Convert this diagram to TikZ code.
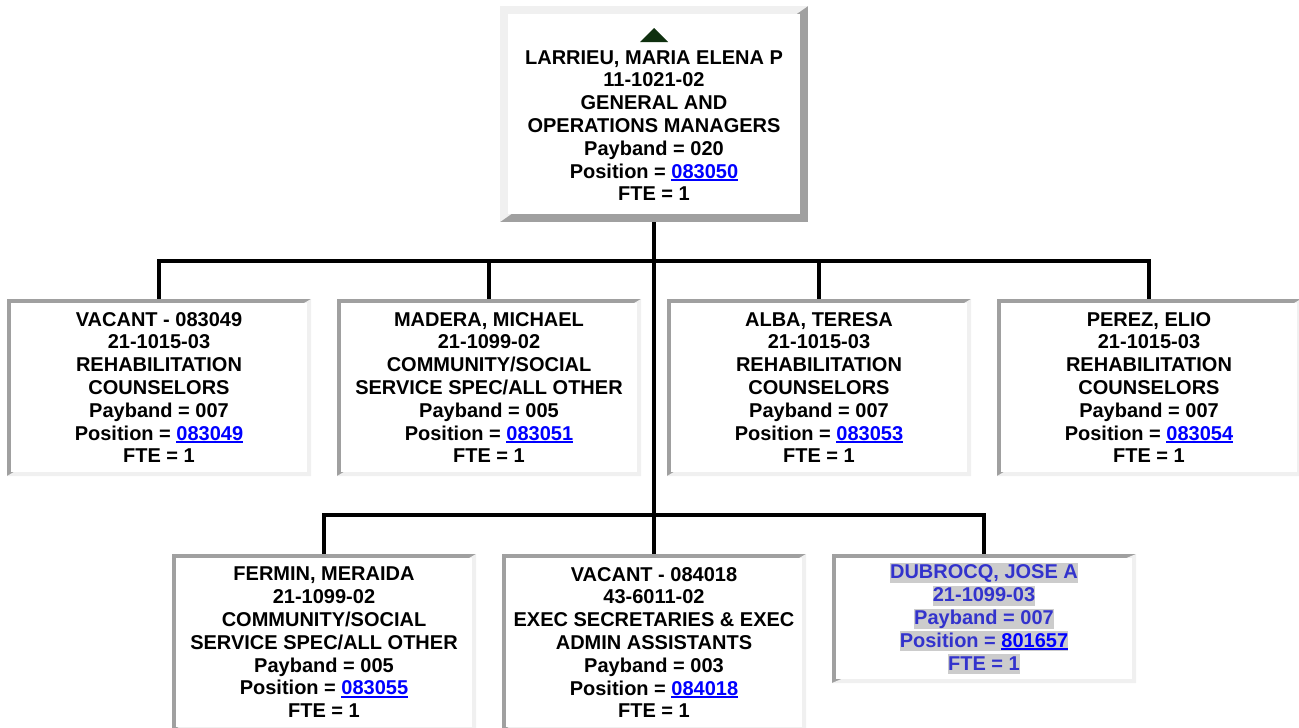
\documentclass[tikz,border=0pt]{standalone}
\usepackage{fontspec}
\setmainfont{Liberation Sans}
\usetikzlibrary{calc}
\definecolor{cedge}{HTML}{A0A0A0}
\definecolor{clight}{HTML}{F0F0F0}
\definecolor{clink}{HTML}{0000FF}
\definecolor{cvis}{HTML}{3333CC}
\definecolor{chl}{HTML}{CCCCCC}
\definecolor{ctri}{HTML}{0F300F}
\newcommand\lnk[1]{\textcolor{clink}{\setbox0\hbox{#1}\rlap{\rule[-2.6pt]{\wd0}{1.6pt}}\box0}}
\newcommand\hl[1]{{\fboxsep=0pt\colorbox{chl}{\rule[-4pt]{0pt}{20pt}#1}}}
\tikzset{
  every picture/.style={x=1pt, y=-1pt},
  every node/.style={font=\bfseries\fontsize{20}{22.8}\selectfont, align=center, inner sep=0pt, outer sep=0pt},
  inset/.style={minimum width=304pt, minimum height=#1, fill=white,
    path picture={
      \fill[cedge] (path picture bounding box.south west) rectangle (path picture bounding box.north east);
      \fill[clight] (path picture bounding box.south west) -- (path picture bounding box.south east) -- (path picture bounding box.north east) -- cycle;
      \fill[white] ([shift={(4pt,4pt)}]path picture bounding box.south west) rectangle ([shift={(-4pt,-4pt)}]path picture bounding box.north east);
    }},
  inset/.default=177pt,
  outset/.style={minimum width=308pt, minimum height=216pt, fill=white,
    path picture={
      \fill[cedge] (path picture bounding box.south west) rectangle (path picture bounding box.north east);
      \fill[clight] (path picture bounding box.south west) -- (path picture bounding box.north west) -- (path picture bounding box.north east) -- cycle;
      \fill[white] ([shift={(8pt,8pt)}]path picture bounding box.south west) rectangle ([shift={(-8pt,-8pt)}]path picture bounding box.north east);
    }},
  wire/.style={draw=black, line width=3.5pt},
}
\begin{document}
\begin{tikzpicture}
  \useasboundingbox (0,0) rectangle (1299,728);
  % manager
  \node[outset] (top) at (654,114)
    {\rule{0pt}{14pt}\\LARRIEU, MARIA ELENA P\\11-1021-02\\GENERAL AND\\OPERATIONS MANAGERS\\Payband = 020\\Position = \lnk{083050}\\FTE = 1};
  \fill[ctri] ($(top.north)+(-14pt,-36pt)$) -- ++(14pt,14pt) -- ++(14pt,-14pt) -- cycle;
  % first row
  \node[inset] (vac49) at (159,387.5)
    {VACANT - 083049\\21-1015-03\\REHABILITATION\\COUNSELORS\\Payband = 007\\Position = \lnk{083049}\\FTE = 1};
  \node[inset] (madera) at (489,387.5)
    {MADERA, MICHAEL\\21-1099-02\\COMMUNITY/SOCIAL\\SERVICE SPEC/ALL OTHER\\Payband = 005\\Position = \lnk{083051}\\FTE = 1};
  \node[inset] (alba) at (819,387.5)
    {ALBA, TERESA\\21-1015-03\\REHABILITATION\\COUNSELORS\\Payband = 007\\Position = \lnk{083053}\\FTE = 1};
  \node[inset] (perez) at (1149,387.5)
    {PEREZ, ELIO\\21-1015-03\\REHABILITATION\\COUNSELORS\\Payband = 007\\Position = \lnk{083054}\\FTE = 1};
  % second row
  \node[inset] (fermin) at (324,642.5)
    {FERMIN, MERAIDA\\21-1099-02\\COMMUNITY/SOCIAL\\SERVICE SPEC/ALL OTHER\\Payband = 005\\Position = \lnk{083055}\\FTE = 1};
  \node[inset] (vac84) at (654,642.5)
    {VACANT - 084018\\43-6011-02\\EXEC SECRETARIES \& EXEC\\ADMIN ASSISTANTS\\Payband = 003\\Position = \lnk{084018}\\FTE = 1};
  \node[inset=129pt, text=cvis] (dubrocq) at (984,618.5)
    {\hl{DUBROCQ, JOSE A}\\\hl{21-1099-03}\\\hl{Payband = 007}\\\hl{Position = \lnk{801657}}\\\hl{FTE = 1}};
  % reporting lines
  \coordinate (bus1) at (654,261);
  \coordinate (bus2) at (654,515);
  \draw[wire] (top.south) -- (bus1) -| (vac49.north);
  \draw[wire] (bus1) -| (madera.north);
  \draw[wire] (bus1) -| (alba.north);
  \draw[wire] (bus1) -| (perez.north);
  \draw[wire] (bus1) -- (bus2) -- (vac84.north);
  \draw[wire] (bus2) -| (fermin.north);
  \draw[wire] (bus2) -| (dubrocq.north);
\end{tikzpicture}
\end{document}
